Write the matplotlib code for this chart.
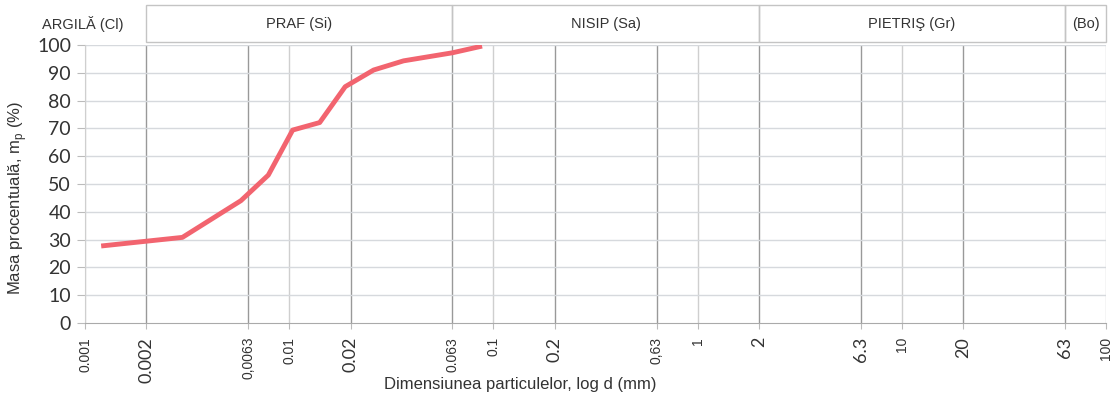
import numpy as np
import matplotlib
matplotlib.use("Agg")
import matplotlib.pyplot as plt
from matplotlib.patches import Rectangle

# curve
diam = [0.0012, 0.003, 0.0058, 0.0079, 0.0104, 0.0141, 0.0188, 0.0259, 0.0363, 0.063, 0.088]
mass = [27.7, 30.8, 44.0, 53.2, 69.4, 72.1, 85.0, 91.0, 94.3, 97.2, 99.6]

tick_vals = [0.001, 0.002, 0.0063, 0.01, 0.02, 0.063, 0.1, 0.2, 0.63, 1, 2, 6.3, 10, 20, 63, 100]
tick_text = ["0.001", "0.002", "0,0063", "0.01", "0.02", "0.063", "0.1", "0.2",
             "0,63", "1", "2", "6.3", "10", "20", "63", "100"]
big_ticks = ["0.002", "0.02", "0.2", "2", "6.3", "20", "63"]
bounds = [0.002, 0.0063, 0.02, 0.063, 0.2, 0.63, 2, 6.3, 20, 63]

zones = ["ARGILĂ (Cl)", "PRAF (Si)", "NISIP (Sa)", "PIETRIŞ (Gr)", "(Bo)"]
zone_edges = [0.001, 0.002, 0.063, 2, 63, 100]

narrow = ["Liberation Sans Narrow", "Liberation Sans", "DejaVu Sans"]
txt = "#333333"

fig = plt.figure(figsize=(11.12, 3.96), dpi=100)
ax = fig.add_axes([85 / 1112, 1 - 323 / 396, (1106 - 85) / 1112, 278 / 396])

ax.set_xscale("log")
ax.set_xlim(0.001, 100)
ax.set_ylim(0, 100)

# grid: class boundaries darker, decades lighter
for v in tick_vals:
    c = "#999999" if v in bounds else "#cfcfcf"
    ax.axvline(v, color=c, lw=1.0, zorder=1)
for y in range(10, 101, 10):
    ax.axhline(y, color="#d6d9dd", lw=1.0, zorder=1)

ax.plot(diam, mass, color="#f2646f", lw=3.5, solid_capstyle="butt", zorder=3)

for s in ["top", "right"]:
    ax.spines[s].set_visible(False)
ax.spines["left"].set_color("#cfcfcf")
ax.spines["bottom"].set_color("#aaaaaa")

ax.set_yticks(range(0, 101, 10))
ax.tick_params(axis="y", length=6, color="#bbbbbb", labelsize=14, labelcolor=txt, pad=4)
for lab in ax.get_yticklabels():
    lab.set_family(["Lato", "DejaVu Sans"])

ax.set_xticks(tick_vals)
ax.xaxis.set_minor_locator(plt.NullLocator())
ax.set_xticklabels(tick_text, rotation=90)
ax.tick_params(axis="x", length=4, color="#bbbbbb", labelcolor=txt, pad=6)
for lab in ax.get_xticklabels():
    if lab.get_text() in big_ticks:
        lab.set_fontsize(13)
        lab.set_family(["Lato", "DejaVu Sans"])
    else:
        lab.set_fontsize(10)
        lab.set_family(["Liberation Sans", "DejaVu Sans"])

# header band with soil classes
trans = ax.get_xaxis_transform()
for i, name in enumerate(zones):
    x0, x1 = zone_edges[i], zone_edges[i + 1]
    if i > 0:
        ax.add_patch(Rectangle((x0, 1.011), x1 - x0, 0.133, transform=trans,
                               fill=False, ec="#c4c4c4", lw=1.0, clip_on=False))
    xc = np.sqrt(x0 * x1) if i > 0 else 0.00098
    ax.text(xc, 1.077, name, transform=trans, ha="center", va="center",
            fontsize=10.5, color=txt, family=narrow)

fig.text(18 / 1112, 1 - 198 / 396, "Masa procentuală, m$_\\mathregular{p}$ (%)", rotation=90,
         ha="center", va="center", fontsize=12, color=txt, family=narrow)
fig.text(520 / 1112, 1 - 384 / 396, "Dimensiunea particulelor, log d (mm)",
         ha="center", va="center", fontsize=12, color=txt, family=narrow)

fig.savefig("out.png", dpi=100)
